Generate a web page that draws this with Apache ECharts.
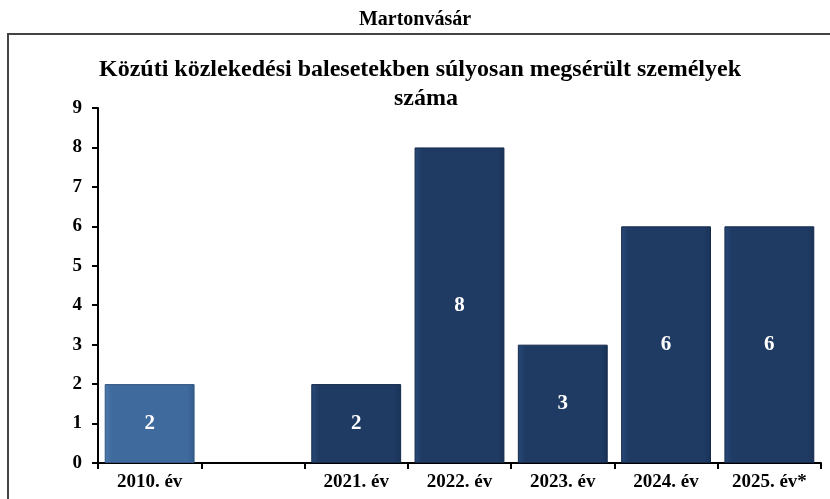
<!DOCTYPE html>
<html>
<head>
<meta charset="utf-8">
<script src="https://cdn.jsdelivr.net/npm/echarts@6/dist/echarts.min.js"></script>
<style>
  html, body { margin: 0; padding: 0; background: #fff; }
  #chart { width: 830px; height: 499px; }
</style>
</head>
<body>
<div id="chart"></div>
<script>
// data
const categories = ['2010. év', '', '2021. év', '2022. év', '2023. év', '2024. év', '2025. év*'];
const values = [2, null, 2, 8, 3, 6, 6];
const yTicks = [0, 9, 1];  // min, max, step

const serif = '"Liberation Serif", "DejaVu Serif", serif';

let chart = echarts.init(document.getElementById('chart'));

function barColor(i) {
    let base = i === 0 ? ['#4d79ad', '#3f6a9e', '#355c8c'] : ['#284a78', '#1f3b64', '#1a3256'];
    return new echarts.graphic.LinearGradient(0, 0, 1, 0, [
        { offset: 0, color: base[0] },
        { offset: 0.08, color: base[1] },
        { offset: 0.92, color: base[1] },
        { offset: 1, color: base[2] }
    ]);
}

chart.setOption({
    animation: false,
    title: [{
        text: 'Martonvásár',
        left: 'center',
        top: 5,
        textStyle: { fontFamily: serif, fontSize: 20, fontWeight: 'bold', color: '#000' }
    }, {
        text: 'Közúti közlekedési balesetekben súlyosan megsérült személyek  \nszáma',
        left: 421,
        textAlign: 'center',
        top: 50,
        textStyle: { fontFamily: serif, fontSize: 24, fontWeight: 'bold', color: '#000', lineHeight: 29 }
    }],
    graphic: [{
        type: 'rect',
        shape: { x: 8, y: 34, width: 830, height: 500 },
        style: { fill: 'none', stroke: '#444', lineWidth: 2 },
        z: -1
    }],
    grid: { left: 98, right: 9, top: 108, bottom: 36 },
    xAxis: {
        type: 'category',
        data: categories,
        axisLine: { lineStyle: { color: '#000', width: 2 } },
        axisTick: { show: true, length: 6, lineStyle: { color: '#000', width: 2 } },
        axisLabel: { fontFamily: serif, fontSize: 19, fontWeight: 'bold', color: '#000', margin: 10 }
    },
    yAxis: {
        type: 'value',
        min: yTicks[0],
        max: yTicks[1],
        interval: yTicks[2],
        axisLine: { show: true, lineStyle: { color: '#000', width: 2 } },
        axisTick: { show: true, length: 6, lineStyle: { color: '#000', width: 2 } },
        splitLine: { show: false },
        axisLabel: { fontFamily: serif, fontSize: 19, fontWeight: 'bold', color: '#000', margin: 16 }
    },
    series: [{
        type: 'bar',
        barCategoryGap: '13%',
        data: values.map((v, i) => ({
            value: v,
            itemStyle: {
                color: barColor(i),
                borderColor: i === 0 ? '#2f5580' : '#13284a',
                borderWidth: 1
            }
        })),
        label: {
            show: true,
            position: 'inside',
            fontFamily: serif,
            fontSize: 21,
            fontWeight: 'bold',
            color: '#fff'
        }
    }]
});
</script>
</body>
</html>
